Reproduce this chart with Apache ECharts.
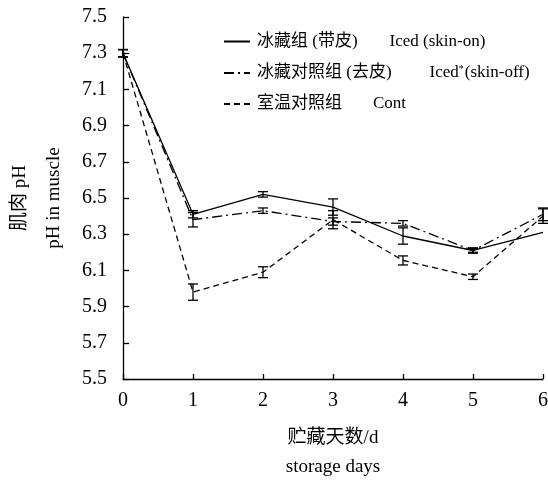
<!DOCTYPE html>
<html>
<head>
<meta charset="utf-8">
<script src="https://cdn.jsdelivr.net/npm/echarts@6/dist/echarts.min.js"></script>
<style>
  html, body { margin: 0; padding: 0; background: #fff; }
  #chart { width: 548px; height: 482px; }
</style>
</head>
<body>
<div id="chart"></div>
<script>
  var days = [0, 1, 2, 3, 4, 5, 6];

  var seriesNames = ['冰藏组 (带皮)', '冰藏对照组 (去皮)', '室温对照组'];
  var englishNames = ['Iced (skin-on)', 'Iced*(skin-off)', 'Cont'];

  var icedSkinOn = [7.30, 6.41, 6.52, 6.45, 6.29, 6.21, 6.31];
  var icedSkinOnErr = [0.02, 0.02, 0.015, 0.045, 0.045, 0.01, 0];

  var icedSkinOff = [7.30, 6.38, 6.43, 6.37, 6.36, 6.21, 6.41];
  var icedSkinOffErr = [0.02, 0.04, 0.015, 0.02, 0.015, 0.015, 0.035];

  var cont = [7.30, 5.98, 6.09, 6.38, 6.155, 6.065, 6.40];
  var contErr = [0.02, 0.045, 0.03, 0.05, 0.025, 0.015, 0.04];

  var FONT = '"Liberation Serif", "Noto Sans CJK SC", serif';

  var chart = echarts.init(document.getElementById('chart'));

  function pairs (vals) {
    return days.map(function (d, i) { return [d, vals[i]]; });
  }

  function errData (vals, errs) {
    return days.map(function (d, i) { return [d, vals[i] - errs[i], vals[i] + errs[i]]; });
  }

  function errorBars (vals, errs) {
    return {
      type: 'custom',
      silent: true,
      clip: false,
      z: 5,
      data: errData(vals, errs),
      renderItem: function (params, api) {
        var lo = api.coord([api.value(0), api.value(1)]);
        var hi = api.coord([api.value(0), api.value(2)]);
        if (Math.abs(hi[1] - lo[1]) < 1) return null;
        var w = 5;
        var st = { stroke: '#000', lineWidth: 1.3 };
        return {
          type: 'group',
          children: [
            { type: 'line', shape: { x1: lo[0], y1: lo[1], x2: hi[0], y2: hi[1] }, style: st },
            { type: 'line', shape: { x1: lo[0] - w, y1: lo[1], x2: lo[0] + w, y2: lo[1] }, style: st },
            { type: 'line', shape: { x1: hi[0] - w, y1: hi[1], x2: hi[0] + w, y2: hi[1] }, style: st }
          ]
        };
      }
    };
  }

  var lineTypes = ['solid', [10, 4, 2, 4], [6, 4]];
  var allVals = [icedSkinOn, icedSkinOff, cont];
  var allErrs = [icedSkinOnErr, icedSkinOffErr, contErr];

  var series = [];
  allVals.forEach(function (vals, i) {
    series.push({
      name: seriesNames[i],
      type: 'line',
      data: pairs(vals),
      symbol: 'none',
      z: 3,
      lineStyle: { color: '#000', width: 1.3, type: lineTypes[i] },
      itemStyle: { color: '#000' }
    });
  });
  allVals.forEach(function (vals, i) {
    series.push(errorBars(vals, allErrs[i]));
  });

  var option = {
    animation: false,
    backgroundColor: '#fff',
    grid: { left: 123, right: 5, top: 17, bottom: 103, outerBoundsMode: 'none', containLabel: false },
    legend: {
      orient: 'vertical',
      left: 218,
      top: 28,
      itemWidth: 26,
      itemHeight: 10,
      itemGap: 14,
      itemStyle: { opacity: 0 },
      data: seriesNames,
      formatter: function (name) {
        var i = seriesNames.indexOf(name);
        var en = englishNames[i];
        var pad = ['en', 'enb', 'enc'][i];
        if (en.indexOf('*') >= 0) {
          var parts = en.split('*');
          return '{cn|' + name + '}{' + pad + '|' + parts[0] + '}{sup|*}{en2|' + parts[1] + '}';
        }
        return '{cn|' + name + '}{' + pad + '|' + en + '}';
      },
      textStyle: {
        fontFamily: FONT,
        fontSize: 17,
        color: '#000',
        padding: [0, 0, 0, 2],
        rich: {
          cn: { fontFamily: FONT, fontSize: 17, color: '#000' },
          en: { fontFamily: FONT, fontSize: 17, color: '#000', padding: [0, 0, 0, 32] },
          enb: { fontFamily: FONT, fontSize: 17, color: '#000', padding: [0, 0, 0, 38] },
          enc: { fontFamily: FONT, fontSize: 17, color: '#000', padding: [0, 0, 0, 31] },
          en2: { fontFamily: FONT, fontSize: 17, color: '#000' },
          sup: { fontFamily: FONT, fontSize: 10, color: '#000', padding: [0, 1, 8, 0] }
        }
      }
    },
    xAxis: {
      type: 'value',
      min: 0,
      max: 6,
      interval: 1,
      name: '贮藏天数/d\nstorage days',
      nameLocation: 'middle',
      nameGap: 45,
      nameTextStyle: { fontFamily: FONT, fontSize: 19, color: '#000', lineHeight: 29 },
      axisLine: { show: true, lineStyle: { color: '#000', width: 1.3 } },
      axisTick: { show: true, inside: true, length: 5, lineStyle: { color: '#000', width: 1.3 } },
      axisLabel: { fontFamily: FONT, fontSize: 20, color: '#000', margin: 12 },
      splitLine: { show: false }
    },
    yAxis: {
      type: 'value',
      min: 5.5,
      max: 7.5,
      interval: 0.2,
      name: '肌肉 pH\npH in muscle',
      nameLocation: 'middle',
      nameRotate: 90,
      nameGap: 51,
      nameTextStyle: { fontFamily: FONT, fontSize: 19, color: '#000', lineHeight: 34 },
      axisLine: { show: true, lineStyle: { color: '#000', width: 1.3 } },
      axisTick: { show: true, inside: true, length: 6, lineStyle: { color: '#000', width: 1.3 } },
      axisLabel: {
        fontFamily: FONT, fontSize: 20, color: '#000', margin: 16,
        formatter: function (v) { return v.toFixed(1); }
      },
      splitLine: { show: false }
    },
    series: series
  };

  option && chart.setOption(option);
</script>
</body>
</html>
